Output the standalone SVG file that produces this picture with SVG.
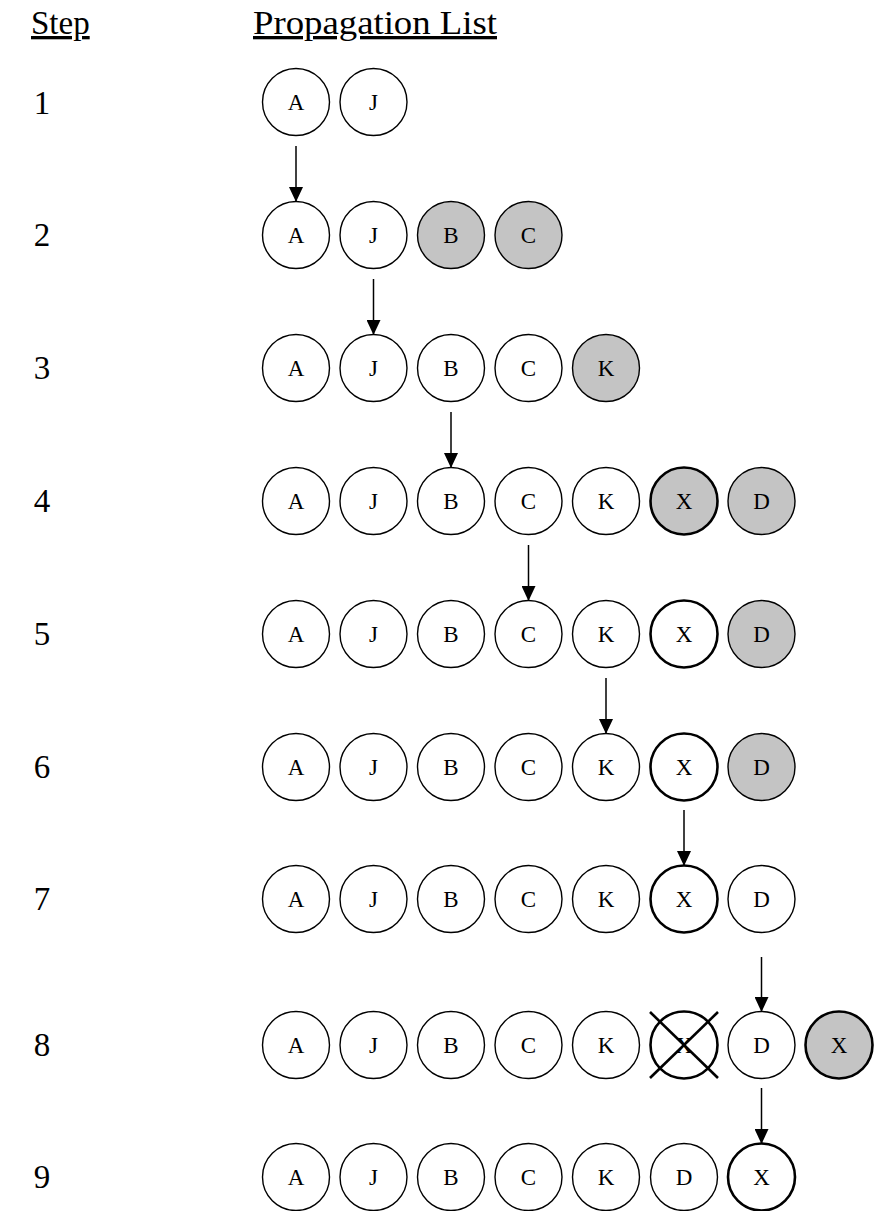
<svg xmlns="http://www.w3.org/2000/svg" width="874" height="1211" viewBox="0 0 874 1211">
<style>
.n{fill:#fff;stroke:#000;stroke-width:1.4}
.s{fill:#c4c4c4}
.t{stroke-width:2.6}
.l{font-family:"Liberation Serif","Times New Roman",serif;font-size:23px;text-anchor:middle;fill:#000}
.d{font-family:"Liberation Serif","Times New Roman",serif;font-size:33px;text-anchor:middle;fill:#000}
.h{font-family:"Liberation Serif","Times New Roman",serif;font-size:33px;fill:#000;text-decoration:underline}
.c{stroke:#000;stroke-width:1.5;fill:none;marker-end:url(#ah)}
.x{stroke:#000;stroke-width:2.6}
</style>
<defs>
<marker id="ah" markerWidth="15" markerHeight="14" refX="15" refY="7" orient="auto" markerUnits="userSpaceOnUse" viewBox="0 0 15 14">
<path d="M0,0 L15,7 L0,14 Z" fill="#000"/>
</marker>
</defs>
<g id="headers">
<text class="h" x="31" y="34">Step</text>
<text class="h" x="253" y="34" textLength="244" lengthAdjust="spacingAndGlyphs">Propagation List</text>
</g>
<g id="steps">
<text class="d" x="42" y="114">1</text>
<text class="d" x="42" y="246">2</text>
<text class="d" x="42" y="379">3</text>
<text class="d" x="42" y="512">4</text>
<text class="d" x="42" y="645">5</text>
<text class="d" x="42" y="778">6</text>
<text class="d" x="42" y="910">7</text>
<text class="d" x="42" y="1056">8</text>
<text class="d" x="42" y="1188">9</text>
</g>
<g id="connectors">
<line class="c" x1="296" y1="146" x2="296" y2="202"/>
<line class="c" x1="373.5" y1="279" x2="373.5" y2="335"/>
<line class="c" x1="451" y1="412" x2="451" y2="468"/>
<line class="c" x1="528.5" y1="545" x2="528.5" y2="601"/>
<line class="c" x1="606" y1="678" x2="606" y2="734"/>
<line class="c" x1="684" y1="810" x2="684" y2="866"/>
<line class="c" x1="761.5" y1="957" x2="761.5" y2="1012"/>
<line class="c" x1="761.5" y1="1088" x2="761.5" y2="1144"/>
</g>
<g id="row1">
<g id="r1A"><circle class="n" cx="296" cy="102" r="33.5"/><text class="l" x="296" y="110">A</text></g>
<g id="r1J"><circle class="n" cx="373.5" cy="102" r="33.5"/><text class="l" x="373.5" y="110">J</text></g>
</g>
<g id="row2">
<g id="r2A"><circle class="n" cx="296" cy="235" r="33.5"/><text class="l" x="296" y="243">A</text></g>
<g id="r2J"><circle class="n" cx="373.5" cy="235" r="33.5"/><text class="l" x="373.5" y="243">J</text></g>
<g id="r2B"><circle class="n s" cx="451" cy="235" r="33.5"/><text class="l" x="451" y="243">B</text></g>
<g id="r2C"><circle class="n s" cx="528.5" cy="235" r="33.5"/><text class="l" x="528.5" y="243">C</text></g>
</g>
<g id="row3">
<g id="r3A"><circle class="n" cx="296" cy="368" r="33.5"/><text class="l" x="296" y="376">A</text></g>
<g id="r3J"><circle class="n" cx="373.5" cy="368" r="33.5"/><text class="l" x="373.5" y="376">J</text></g>
<g id="r3B"><circle class="n" cx="451" cy="368" r="33.5"/><text class="l" x="451" y="376">B</text></g>
<g id="r3C"><circle class="n" cx="528.5" cy="368" r="33.5"/><text class="l" x="528.5" y="376">C</text></g>
<g id="r3K"><circle class="n s" cx="606" cy="368" r="33.5"/><text class="l" x="606" y="376">K</text></g>
</g>
<g id="row4">
<g id="r4A"><circle class="n" cx="296" cy="501" r="33.5"/><text class="l" x="296" y="509">A</text></g>
<g id="r4J"><circle class="n" cx="373.5" cy="501" r="33.5"/><text class="l" x="373.5" y="509">J</text></g>
<g id="r4B"><circle class="n" cx="451" cy="501" r="33.5"/><text class="l" x="451" y="509">B</text></g>
<g id="r4C"><circle class="n" cx="528.5" cy="501" r="33.5"/><text class="l" x="528.5" y="509">C</text></g>
<g id="r4K"><circle class="n" cx="606" cy="501" r="33.5"/><text class="l" x="606" y="509">K</text></g>
<g id="r4X"><circle class="n s t" cx="684" cy="501" r="33.5"/><text class="l" x="684" y="509">X</text></g>
<g id="r4D"><circle class="n s" cx="761.5" cy="501" r="33.5"/><text class="l" x="761.5" y="509">D</text></g>
</g>
<g id="row5">
<g id="r5A"><circle class="n" cx="296" cy="634" r="33.5"/><text class="l" x="296" y="642">A</text></g>
<g id="r5J"><circle class="n" cx="373.5" cy="634" r="33.5"/><text class="l" x="373.5" y="642">J</text></g>
<g id="r5B"><circle class="n" cx="451" cy="634" r="33.5"/><text class="l" x="451" y="642">B</text></g>
<g id="r5C"><circle class="n" cx="528.5" cy="634" r="33.5"/><text class="l" x="528.5" y="642">C</text></g>
<g id="r5K"><circle class="n" cx="606" cy="634" r="33.5"/><text class="l" x="606" y="642">K</text></g>
<g id="r5X"><circle class="n t" cx="684" cy="634" r="33.5"/><text class="l" x="684" y="642">X</text></g>
<g id="r5D"><circle class="n s" cx="761.5" cy="634" r="33.5"/><text class="l" x="761.5" y="642">D</text></g>
</g>
<g id="row6">
<g id="r6A"><circle class="n" cx="296" cy="767" r="33.5"/><text class="l" x="296" y="775">A</text></g>
<g id="r6J"><circle class="n" cx="373.5" cy="767" r="33.5"/><text class="l" x="373.5" y="775">J</text></g>
<g id="r6B"><circle class="n" cx="451" cy="767" r="33.5"/><text class="l" x="451" y="775">B</text></g>
<g id="r6C"><circle class="n" cx="528.5" cy="767" r="33.5"/><text class="l" x="528.5" y="775">C</text></g>
<g id="r6K"><circle class="n" cx="606" cy="767" r="33.5"/><text class="l" x="606" y="775">K</text></g>
<g id="r6X"><circle class="n t" cx="684" cy="767" r="33.5"/><text class="l" x="684" y="775">X</text></g>
<g id="r6D"><circle class="n s" cx="761.5" cy="767" r="33.5"/><text class="l" x="761.5" y="775">D</text></g>
</g>
<g id="row7">
<g id="r7A"><circle class="n" cx="296" cy="899" r="33.5"/><text class="l" x="296" y="907">A</text></g>
<g id="r7J"><circle class="n" cx="373.5" cy="899" r="33.5"/><text class="l" x="373.5" y="907">J</text></g>
<g id="r7B"><circle class="n" cx="451" cy="899" r="33.5"/><text class="l" x="451" y="907">B</text></g>
<g id="r7C"><circle class="n" cx="528.5" cy="899" r="33.5"/><text class="l" x="528.5" y="907">C</text></g>
<g id="r7K"><circle class="n" cx="606" cy="899" r="33.5"/><text class="l" x="606" y="907">K</text></g>
<g id="r7X"><circle class="n t" cx="684" cy="899" r="33.5"/><text class="l" x="684" y="907">X</text></g>
<g id="r7D"><circle class="n" cx="761.5" cy="899" r="33.5"/><text class="l" x="761.5" y="907">D</text></g>
</g>
<g id="row8">
<g id="r8A"><circle class="n" cx="296" cy="1045" r="33.5"/><text class="l" x="296" y="1053">A</text></g>
<g id="r8J"><circle class="n" cx="373.5" cy="1045" r="33.5"/><text class="l" x="373.5" y="1053">J</text></g>
<g id="r8B"><circle class="n" cx="451" cy="1045" r="33.5"/><text class="l" x="451" y="1053">B</text></g>
<g id="r8C"><circle class="n" cx="528.5" cy="1045" r="33.5"/><text class="l" x="528.5" y="1053">C</text></g>
<g id="r8K"><circle class="n" cx="606" cy="1045" r="33.5"/><text class="l" x="606" y="1053">K</text></g>
<g id="r8X"><circle class="n t" cx="684" cy="1045" r="33.5"/><text class="l" x="684" y="1053">X</text><line class="x" x1="650" y1="1012" x2="718" y2="1078"/><line class="x" x1="718" y1="1012" x2="650" y2="1078"/></g>
<g id="r8D"><circle class="n" cx="761.5" cy="1045" r="33.5"/><text class="l" x="761.5" y="1053">D</text></g>
<g id="r8X2"><circle class="n s t" cx="839" cy="1045" r="33.5"/><text class="l" x="839" y="1053">X</text></g>
</g>
<g id="row9">
<g id="r9A"><circle class="n" cx="296" cy="1177" r="33.5"/><text class="l" x="296" y="1185">A</text></g>
<g id="r9J"><circle class="n" cx="373.5" cy="1177" r="33.5"/><text class="l" x="373.5" y="1185">J</text></g>
<g id="r9B"><circle class="n" cx="451" cy="1177" r="33.5"/><text class="l" x="451" y="1185">B</text></g>
<g id="r9C"><circle class="n" cx="528.5" cy="1177" r="33.5"/><text class="l" x="528.5" y="1185">C</text></g>
<g id="r9K"><circle class="n" cx="606" cy="1177" r="33.5"/><text class="l" x="606" y="1185">K</text></g>
<g id="r9D"><circle class="n" cx="684" cy="1177" r="33.5"/><text class="l" x="684" y="1185">D</text></g>
<g id="r9X"><circle class="n t" cx="761.5" cy="1177" r="33.5"/><text class="l" x="761.5" y="1185">X</text></g>
</g>
</svg>
